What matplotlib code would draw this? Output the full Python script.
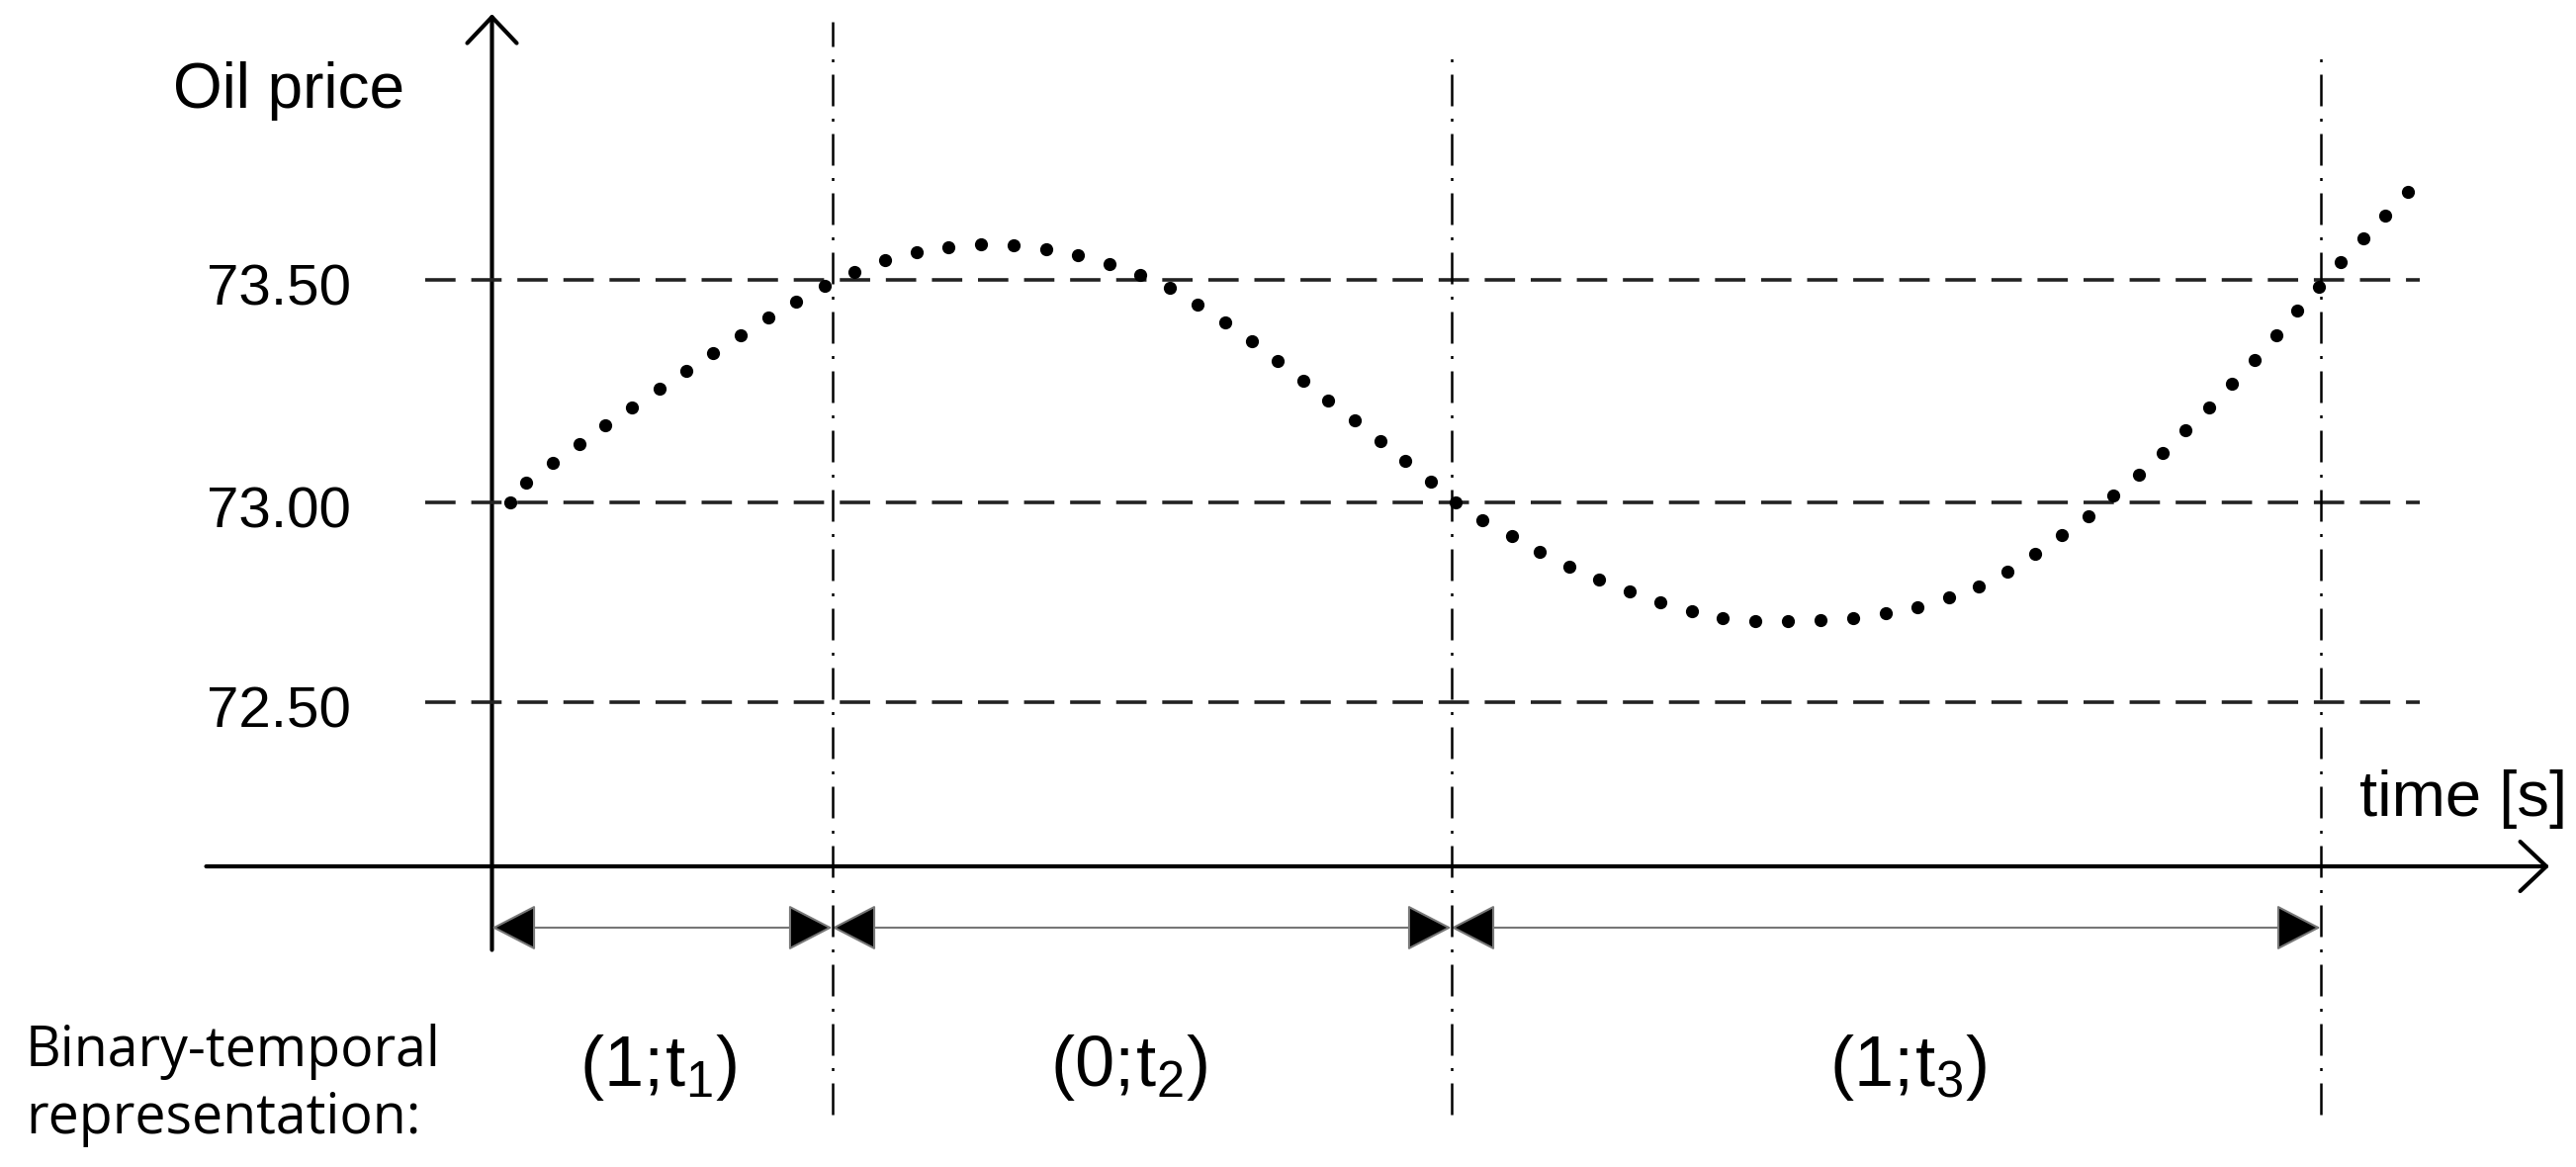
# schematic: oil price curve with its binary-temporal representation
import numpy as np
import matplotlib
matplotlib.use("Agg")
import matplotlib.pyplot as plt
from matplotlib.patches import FancyArrowPatch

plt.rcParams['font.family'] = ['Liberation Sans', 'DejaVu Sans']

# price levels drawn as dashed lines
levels = [73.50, 73.00, 72.50]

# interval limits on the time axis (y axis sits at 0)
bounds = [0.0, 3.44, 9.70, 18.49]
interval_labels = [r"$\mathregular{(1;\!t_1)}$", r"$\mathregular{(0;\!t_2)}$", r"$\mathregular{(1;\!t_3)}$"]
label_x = [1.685, 6.445, 14.325]

# oil price, one entry per dot of the curve
time = [0.185, 0.345, 0.615, 0.885, 1.145, 1.415, 1.695, 1.965, 2.235, 2.515,
        2.795, 3.075, 3.365, 3.665, 3.975, 4.295, 4.615, 4.945, 5.275, 5.605,
        5.925, 6.245, 6.555, 6.855, 7.135, 7.415, 7.685, 7.945, 8.205, 8.455,
        8.725, 8.985, 9.235, 9.495, 9.745, 10.015, 10.315, 10.595, 10.895, 11.195,
        11.505, 11.815, 12.135, 12.445, 12.775, 13.105, 13.435, 13.765, 14.095, 14.415,
        14.735, 15.035, 15.325, 15.605, 15.875, 16.145, 16.395, 16.655, 16.895, 17.125,
        17.365, 17.595, 17.825, 18.045, 18.255, 18.475, 18.695, 18.925, 19.145, 19.375]
price = [73.000, 73.044, 73.089, 73.131, 73.173, 73.213, 73.256, 73.296, 73.336, 73.376,
         73.416, 73.451, 73.487, 73.518, 73.544, 73.562, 73.573, 73.580, 73.578, 73.569,
         73.556, 73.536, 73.511, 73.482, 73.444, 73.404, 73.362, 73.318, 73.273, 73.229,
         73.184, 73.138, 73.093, 73.047, 73.000, 72.955, 72.916, 72.876, 72.839, 72.807,
         72.777, 72.750, 72.728, 72.710, 72.703, 72.703, 72.705, 72.710, 72.723, 72.738,
         72.762, 72.790, 72.827, 72.871, 72.918, 72.965, 73.016, 73.062, 73.111, 73.162,
         73.213, 73.267, 73.320, 73.376, 73.431, 73.484, 73.540, 73.593, 73.644, 73.698]

# the drawing squeezes the price axis a little below 73.00
squeeze = 0.898


def fwd(p):
	p = np.asarray(p, dtype=float)
	return np.where(p < 73.0, 73.0 + (p - 73.0) * squeeze, p)


def inv(v):
	v = np.asarray(v, dtype=float)
	return np.where(v < 73.0, 73.0 + (v - 73.0) / squeeze, v)


fig = plt.figure(figsize=(26.05, 11.8), dpi=100)
ax = fig.add_axes([0, 0, 1, 1])
ax.set_yscale('function', functions=(fwd, inv))
ax.set_xlim(-4.975, 21.075)
ax.set_ylim(float(inv(71.5067)), 74.1289)
ax.axis('off')

xt = ax.get_xaxis_transform()   # x in data, y in axes fraction
yt = ax.get_yaxis_transform()   # x in axes fraction, y in data

# horizontal dashed levels and their labels
ax.hlines(levels, -0.675, 19.495, colors='#222222', lw=2.6, linestyles=[(0, (8.5, 4.4))])
for lvl in levels:
	ax.annotate(f"{lvl:.2f}", xy=(0.1363, lvl), xycoords=yt, xytext=(0, -18),
	            textcoords='offset points', ha='right', va='baseline', fontsize=42)

# dash-dot interval limits (the first one reaches a bit higher)
tops = [0.981, 0.956, 0.956]
for b, top in zip(bounds[1:], tops):
	ax.axvline(b, ymin=0.045, ymax=top, color='black', lw=1.8,
	           linestyle=(0, (12.8, 5.0, 1.2, 5.0)))

# price curve
ax.plot(time, price, linestyle='none', marker='o', ms=8.5, color='black')

# axes with open arrow heads
ax.add_patch(FancyArrowPatch((-2.89, 0.2576), (20.805, 0.2576), transform=xt,
                             arrowstyle='->,head_length=19,head_width=18',
                             mutation_scale=1, lw=3, color='black', shrinkA=0, shrinkB=0))
ax.add_patch(FancyArrowPatch((0, 0.186), (0, 0.988), transform=xt,
                             arrowstyle='->,head_length=19,head_width=18',
                             mutation_scale=1, lw=3, color='black', shrinkA=0, shrinkB=0))

# interval arrows and labels
for i in range(len(bounds) - 1):
	ax.add_patch(FancyArrowPatch((bounds[i], 0.2051), (bounds[i + 1], 0.2051), transform=xt,
	                             arrowstyle='<|-|>,head_length=29,head_width=15',
	                             mutation_scale=1, lw=1.5, edgecolor='#777777',
	                             facecolor='black', shrinkA=0, shrinkB=0))
	ax.text(label_x[i], 0.0695, interval_labels[i], transform=xt,
	        ha='center', va='baseline', fontsize=52)

ax.text(175 / 2605, 0.9076, "Oil price", transform=ax.transAxes, ha='left', va='baseline', fontsize=46)
ax.text(2386 / 2605, 0.3008, "time [s]", transform=ax.transAxes, ha='left', va='baseline', fontsize=47)
ax.text(26 / 2605, 0.0288, "Binary-temporal\nrepresentation:", transform=ax.transAxes,
        ha='left', va='baseline', fontsize=40, linespacing=1.25, family=['Open Sans', 'DejaVu Sans'])

fig.savefig('out.png', dpi=100)
